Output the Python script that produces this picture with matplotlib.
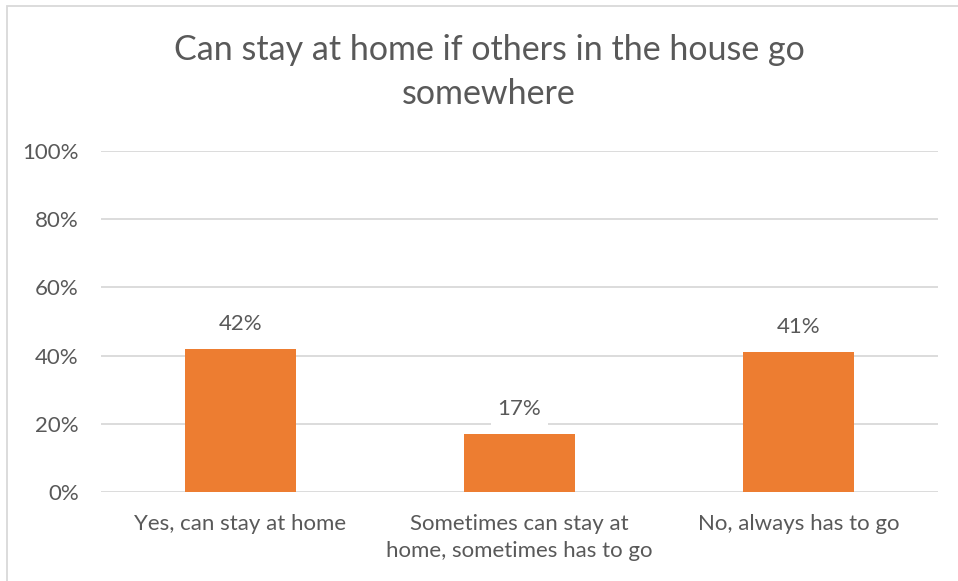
import matplotlib.pyplot as plt
from matplotlib.patches import Rectangle

categories = ['Yes, can stay at home',
              'Sometimes can stay at\nhome, sometimes has to go',
              'No, always has to go']
values = [42, 17, 41]
labels = ['42%', '17%', '41%']
yticks = [0, 20, 40, 60, 80, 100]

plt.rcParams['font.family'] = ['Lato', 'DejaVu Sans']
text_color = '#595959'

fig = plt.figure(figsize=(9.58, 5.81), dpi=100)
ax = fig.add_axes([101/958, 1 - 492/581, (938 - 101)/958, (492 - 151)/581])

x = range(len(categories))
ax.bar(x, values, width=0.4, color='#ED7D31', zorder=3)

for i, v in enumerate(values):
    ax.text(i, v + 7.3, labels[i], ha='center', va='center', fontsize=16,
            color=text_color, zorder=4,
            bbox=dict(boxstyle='square,pad=0.3', fc='white', ec='none'))

ax.set_xlim(-0.5, 2.5)
ax.set_ylim(0, 100)
ax.set_yticks(yticks)
ax.set_yticklabels([f'{t}%' for t in yticks])
ax.set_xticks(list(x))
ax.set_xticklabels(categories, linespacing=1.45)
ax.tick_params(axis='both', length=0, labelsize=16, labelcolor=text_color)
ax.tick_params(axis='y', pad=16)
ax.tick_params(axis='x', pad=15.5)
ax.grid(axis='y', color='#D9D9D9', linewidth=1.3, zorder=0)
for s in ax.spines.values():
    s.set_visible(False)

fig.text(489/958, 1 - 72/581, 'Can stay at home if others in the house go\nsomewhere',
         ha='center', va='center', fontsize=24.5, color=text_color, linespacing=1.5)

fig.patches.append(Rectangle((7/958, -0.1), 1.2, 1 - 6/581 + 0.1, transform=fig.transFigure,
                             fill=False, ec='#D9D9D9', lw=1.3))

fig.savefig('out.png', dpi=100)
